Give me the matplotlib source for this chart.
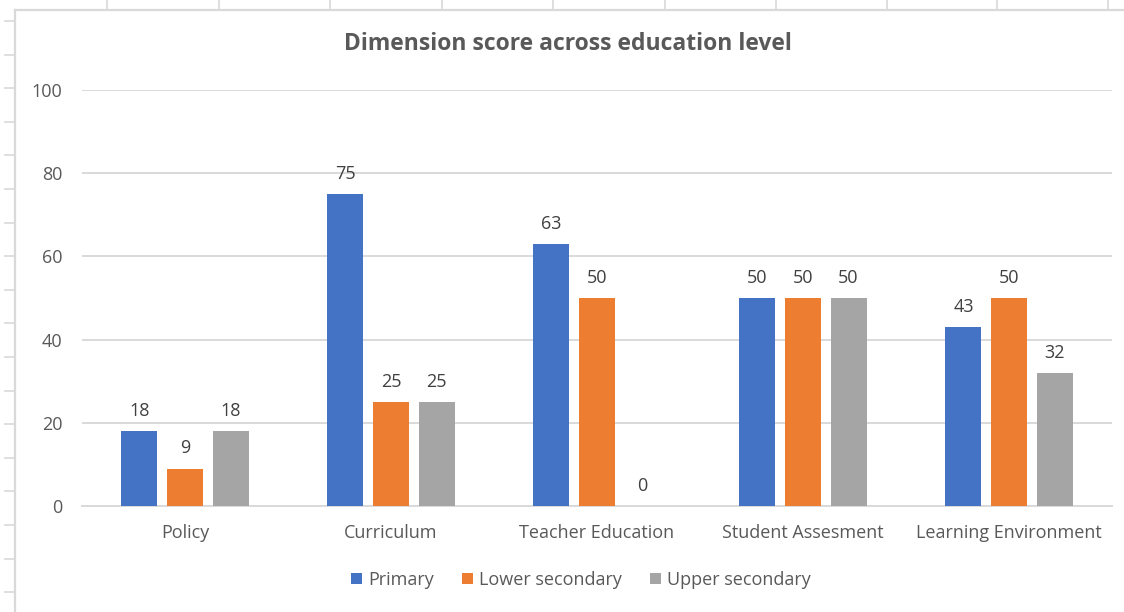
import matplotlib
matplotlib.use("Agg")
import matplotlib.pyplot as plt
import numpy as np
from matplotlib.lines import Line2D
from matplotlib.patches import Patch

categories = ["Policy", "Curriculum", "Teacher Education", "Student Assesment", "Learning Environment"]
primary = [18, 75, 63, 50, 43]
lower_secondary = [9, 25, 50, 50, 50]
upper_secondary = [18, 25, 0, 50, 32]
series_names = ["Primary", "Lower secondary", "Upper secondary"]
y_ticks = [0, 20, 40, 60, 80, 100]

colors = ["#4472C4", "#ED7D31", "#A5A5A5"]
text_color = "#595959"
label_color = "#404040"
grid_color = "#D9D9D9"

plt.rcParams["font.family"] = ["Open Sans", "DejaVu Sans"]

W, H = 1124, 612
fig = plt.figure(figsize=(W / 100, H / 100), dpi=100)
fig.patch.set_facecolor("white")

def fx(px):
    return px / W

def fy(py):
    return 1 - py / H

# worksheet cell borders around the chart object
for x in [107, 219, 330, 442, 553, 665, 776, 887, 997, 1108]:
    fig.add_artist(Line2D([fx(x), fx(x)], [fy(0), fy(9)], color=grid_color, lw=1.2))
for i in range(18):
    y = 21 + i * 33.6
    fig.add_artist(Line2D([fx(5), fx(15)], [fy(y), fy(y)], color=grid_color, lw=1.2))
fig.add_artist(Line2D([fx(15), fx(W)], [fy(10), fy(10)], color=grid_color, lw=1.6))
fig.add_artist(Line2D([fx(15), fx(15)], [fy(10), fy(H)], color=grid_color, lw=1.6))

ax = fig.add_axes([fx(82), fy(506), fx(1112) - fx(82), fy(90) - fy(506)])
ax.set_facecolor("white")

fs = 13
x = np.arange(len(categories))
width = 0.175
step = 0.221
all_series = [primary, lower_secondary, upper_secondary]
for k, (vals, col, name) in enumerate(zip(all_series, colors, series_names)):
    pos = x + (k - 1) * step
    bars = ax.bar(pos, vals, width=width, color=col, label=name, zorder=3)
    for b, v in zip(bars, vals):
        ax.annotate(f"{v:g}", (b.get_x() + b.get_width() / 2, v),
                    xytext=(0, 8), textcoords="offset points",
                    ha="center", va="bottom", fontsize=fs, color=label_color)

ax.set_xlim(-0.5, len(categories) - 0.5)
ax.set_ylim(0, 100)
ax.set_yticks(y_ticks)
ax.set_xticks(x)
ax.set_xticklabels(categories)
ax.yaxis.grid(True, color=grid_color, lw=1.4, zorder=0)
ax.set_axisbelow(True)
for s in ["top", "right", "left"]:
    ax.spines[s].set_visible(False)
ax.spines["bottom"].set_color(grid_color)
ax.spines["bottom"].set_linewidth(1.4)
ax.tick_params(axis="both", length=0, labelsize=fs, colors=text_color)
ax.tick_params(axis="y", pad=14)
ax.tick_params(axis="x", pad=13)

fig.text(fx(568), fy(44), "Dimension score across education level", ha="center", va="center",
         fontsize=16.5, fontweight="bold", color=text_color)

handles = [Patch(facecolor=c, edgecolor="none") for c in colors]
leg = fig.legend(handles, series_names, loc="center", bbox_to_anchor=(fx(581), fy(580)),
                 ncol=3, frameon=False, fontsize=fs, handlelength=0.6, handleheight=0.6,
                 handletextpad=0.35, columnspacing=1.55)
for t in leg.get_texts():
    t.set_color(text_color)

fig.savefig("out.png", dpi=100, facecolor="white")
